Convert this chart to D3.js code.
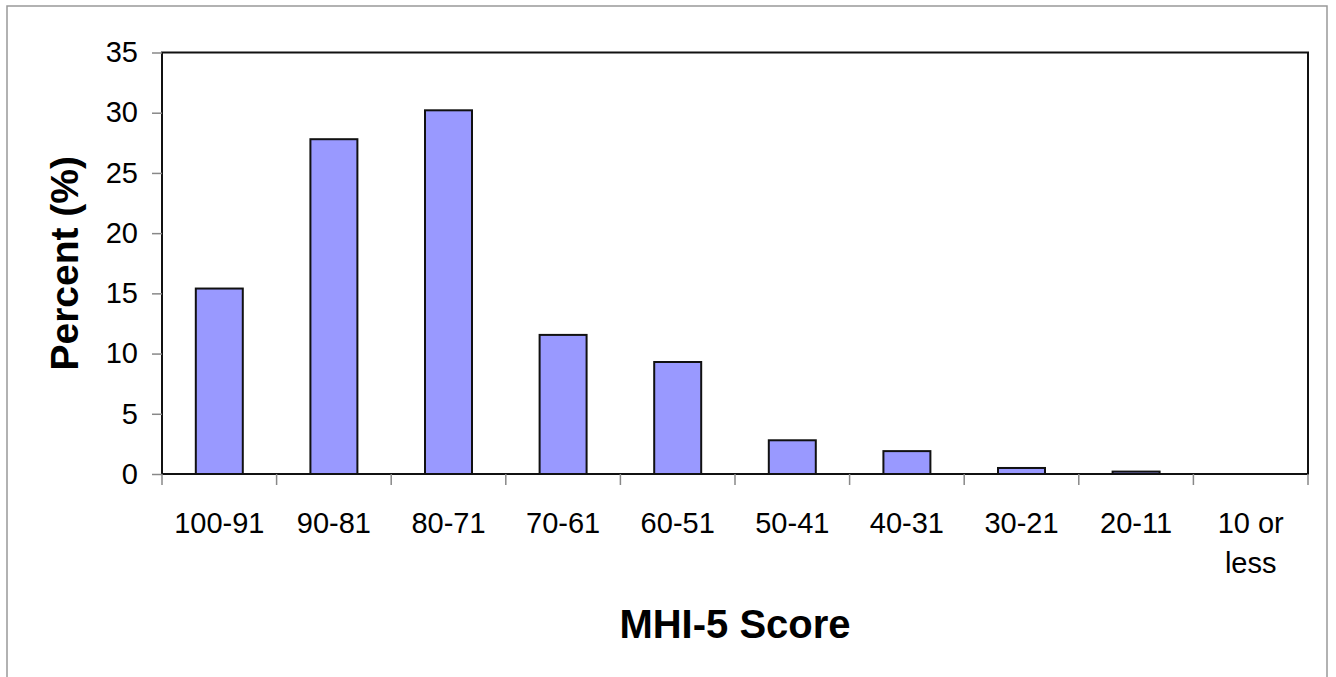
<!DOCTYPE html>
<html>
<head>
<meta charset="utf-8">
<script src="https://cdn.jsdelivr.net/npm/d3@7"></script>
<style>
  body { margin: 0; background: #fff; }
  text { font-family: "Liberation Sans", Arial, sans-serif; }
</style>
</head>
<body>
<div class="canvas"></div>
<script>
// Data
var categories = ['100-91', '90-81', '80-71', '70-61', '60-51', '50-41', '40-31', '30-21', '20-11', '10 or less'],
    percents = [15.4, 27.8, 30.2, 11.55, 9.3, 2.8, 1.9, 0.5, 0.2, 0],
    yTicks = [0, 5, 10, 15, 20, 25, 30, 35];

// Config
var width = 1336,
    height = 677,
    plot = {left: 162, right: 1308, top: 52.5, bottom: 474},
    barColor = '#9999ff';

var svg = d3.select('.canvas').append('svg')
    .attr('width', width)
    .attr('height', height);

// outer frame
svg.append('rect')
    .attr('x', 7).attr('y', 6)
    .attr('width', 1320).attr('height', 700)
    .attr('fill', 'none')
    .attr('stroke', '#999')
    .attr('stroke-width', 1.5);

var x = d3.scaleBand()
    .domain(categories)
    .range([plot.left, plot.right])
    .paddingInner(0.59)
    .paddingOuter(0.295);

var xOuter = d3.scaleBand()
    .domain(categories)
    .range([plot.left, plot.right]);

var y = d3.scaleLinear()
    .domain([0, 35])
    .range([plot.bottom, plot.top]);

// plot frame
svg.append('rect')
    .attr('x', plot.left).attr('y', plot.top)
    .attr('width', plot.right - plot.left)
    .attr('height', plot.bottom - plot.top)
    .attr('fill', 'none')
    .attr('stroke', '#111')
    .attr('stroke-width', 2);

// y axis
var yAxis = svg.append('g')
    .attr('transform', 'translate(' + plot.left + ',0)')
    .call(d3.axisLeft(y).tickValues(yTicks).tickSize(10).tickPadding(14));
yAxis.select('.domain').remove();
yAxis.selectAll('line').attr('stroke', '#888').attr('stroke-width', 1.5);
yAxis.selectAll('text')
    .attr('font-size', 29)
    .attr('fill', '#000')
    .style('font-family', '"Liberation Sans", Arial, sans-serif');

// x ticks at category boundaries
var boundaries = categories.map(function (c) { return xOuter(c); }).concat([plot.right]);
svg.selectAll('.xtick')
    .data(boundaries)
    .enter()
    .append('line')
    .attr('x1', function (d) { return d; })
    .attr('x2', function (d) { return d; })
    .attr('y1', plot.bottom)
    .attr('y2', plot.bottom + 11)
    .attr('stroke', '#888')
    .attr('stroke-width', 1.5);

// x labels
var labels = svg.selectAll('.xlabel')
    .data(categories)
    .enter()
    .append('text')
    .attr('text-anchor', 'middle')
    .attr('font-size', 29)
    .attr('fill', '#000')
    .attr('transform', function (d) { return 'translate(' + (xOuter(d) + xOuter.bandwidth() / 2) + ',533)'; });

labels.each(function (d) {
    var parts = d === '10 or less' ? ['10 or', 'less'] : [d];
    d3.select(this).selectAll('tspan')
        .data(parts)
        .enter()
        .append('tspan')
        .attr('x', 0)
        .attr('y', function (p, i) { return i * 40; })
        .text(function (p) { return p; });
});

// bars
svg.selectAll('.bar')
    .data(percents)
    .enter()
    .append('rect')
    .attr('x', function (d, i) { return x(categories[i]); })
    .attr('y', function (d) { return y(d); })
    .attr('width', x.bandwidth())
    .attr('height', function (d) { return plot.bottom - y(d); })
    .attr('fill', barColor)
    .attr('stroke', '#111')
    .attr('stroke-width', 2);

// axis titles
svg.append('text')
    .attr('x', (plot.left + plot.right) / 2)
    .attr('y', 638)
    .attr('text-anchor', 'middle')
    .attr('font-size', 40)
    .attr('font-weight', 'bold')
    .text('MHI-5 Score');

svg.append('text')
    .attr('transform', 'translate(78,' + (plot.top + plot.bottom) / 2 + ') rotate(-90)')
    .attr('text-anchor', 'middle')
    .attr('font-size', 39)
    .attr('font-weight', 'bold')
    .text('Percent (%)');
</script>
</body>
</html>
